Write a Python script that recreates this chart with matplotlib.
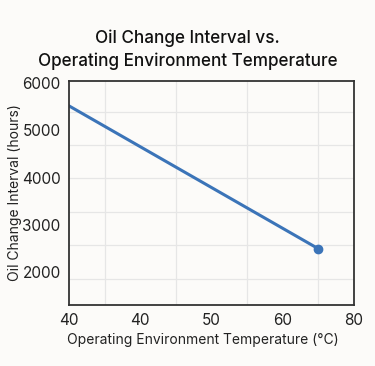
import matplotlib
matplotlib.use('Agg')
import matplotlib.pyplot as plt
from matplotlib.ticker import FixedLocator

plt.rcParams['font.family'] = ['Inter', 'DejaVu Sans']

# data
temps = [40, 75]
interval = [5520, 2490]
x_ticks = [40, 50, 60, 70, 80]
x_tick_labels = ['40', '40', '50', '60', '80']
y_ticks = [2000, 3000, 4000, 5000, 6000]
y_grid = [1850, 2560, 3270, 3980, 4690, 5400]
x_grid = [45, 50, 55, 60, 65, 70, 75]

fig = plt.figure(figsize=(3.75, 3.66), dpi=100)
fig.patch.set_facecolor('#fcfbf9')
ax = fig.add_axes([0.184, 0.167, 0.76, 0.612])
ax.set_facecolor('#fcfbf9')

ax.plot(temps, interval, color='#3b74b8', linewidth=2.2,
        marker='o', markersize=6, markevery=[len(temps) - 1])

ax.set_xlim(40, 80)
ax.set_ylim(1300, 6050)
ax.xaxis.set_major_locator(FixedLocator(x_ticks))
ax.set_xticklabels(x_tick_labels)
ax.yaxis.set_major_locator(FixedLocator(y_ticks))
ax.xaxis.set_minor_locator(FixedLocator(x_grid))
ax.yaxis.set_minor_locator(FixedLocator(y_grid))
ax.grid(True, which='minor', color='#e6e6e6', linewidth=0.9)
ax.tick_params(which='both', length=0, labelsize=11, colors='#222222', pad=6)

for s in ax.spines.values():
    s.set_color('#333333')
    s.set_linewidth(1.3)

ax.set_xlabel('Operating Environment Temperature (°C)', fontsize=10, color='#222222')
ax.set_ylabel('Oil Change Interval (hours)', fontsize=10, color='#222222', labelpad=0)
ax.xaxis.set_label_coords(0.47, -0.125)
fig.suptitle('Oil Change Interval vs.\nOperating Environment Temperature',
             fontsize=12.3, fontweight='medium', color='#111111', y=0.92, linespacing=1.4)

fig.savefig('out.png', dpi=100, facecolor=fig.get_facecolor())
